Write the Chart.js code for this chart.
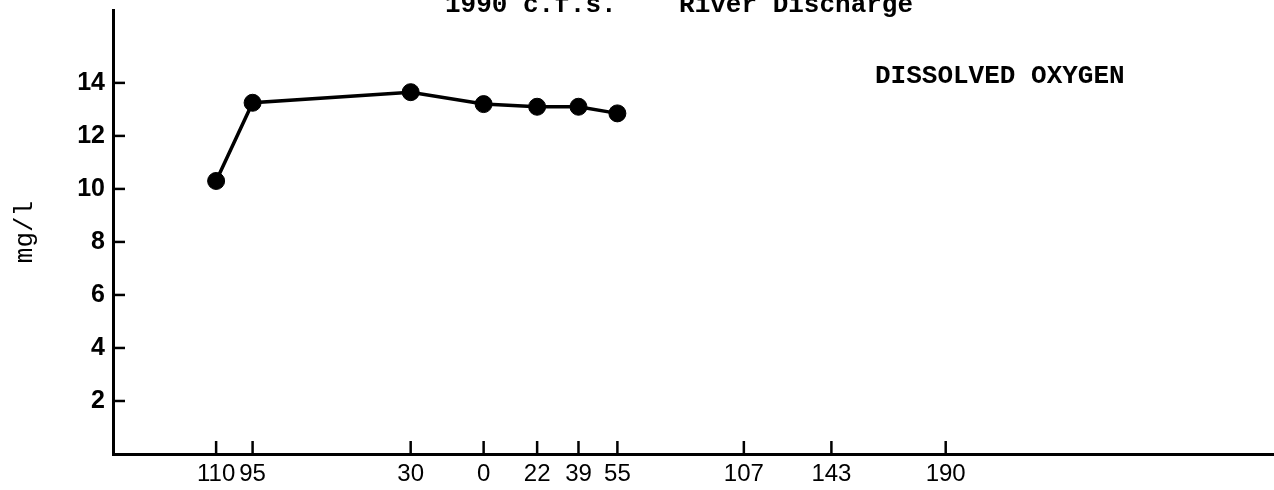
<!DOCTYPE html>
<html>
<head>
<meta charset="utf-8">
<script src="https://cdn.jsdelivr.net/npm/chart.js@4"></script>
<style>
  html, body { margin: 0; padding: 0; background: #fff; overflow: hidden; }
  /* a little wider than the window: Chart.js keeps ~10px free on the right
     for the large dots, and the x axis should run to the window edge */
  #wrap { width: 1284px; height: 490px; position: relative; }
</style>
</head>
<body>
<div id="wrap"><canvas id="doChart"></canvas></div>
<script>
// station positions along the river (miles, upstream negative) and their printed labels
const stations = [-110, -95, -30, 0, 22, 39, 55, 107, 143, 190];
const stationLabels = ["110", "95", "30", "0", "22", "39", "55", "107", "143", "190"];

// dissolved oxygen, mg/l, at the sampled stations
const sampleStations = [-110, -95, -30, 0, 22, 39, 55];
const oxygenValues = [10.3, 13.25, 13.65, 13.2, 13.1, 13.1, 12.85];

const yTicks = [2, 4, 6, 8, 10, 12, 14];

const headerText = "1990 c.f.s.    River Discharge";
const panelText = "DISSOLVED OXYGEN";

// short tick marks pointing into the plot, plus the typed captions
const innerTicks = {
  id: "innerTicks",
  afterDraw(chart) {
    const ctx = chart.ctx;
    const x = chart.scales.x;
    const y = chart.scales.y;
    const area = chart.chartArea;
    ctx.save();
    ctx.strokeStyle = "#000";
    ctx.lineWidth = 2.5;
    x.ticks.forEach((t) => {
      const px = x.getPixelForValue(t.value);
      ctx.beginPath();
      ctx.moveTo(px, area.bottom);
      ctx.lineTo(px, area.bottom - 13);
      ctx.stroke();
    });
    y.ticks.forEach((t) => {
      const py = y.getPixelForValue(t.value);
      ctx.beginPath();
      ctx.moveTo(area.left, py);
      ctx.lineTo(area.left + 12, py);
      ctx.stroke();
    });

    ctx.fillStyle = "#000";
    ctx.font = "bold 26px 'Liberation Mono'";
    ctx.textBaseline = "alphabetic";
    ctx.textAlign = "left";
    ctx.fillText(headerText, 445, 12);
    ctx.fillText(panelText, 875, 83);
    ctx.restore();
  },
};

new Chart(document.getElementById("doChart").getContext("2d"), {
  type: "line",
  data: {
    datasets: [
      {
        label: "Dissolved oxygen",
        data: sampleStations.map((s, i) => ({ x: s, y: oxygenValues[i] })),
        borderColor: "#000",
        backgroundColor: "#000",
        borderWidth: 3.5,
        pointRadius: 8.5,
        pointHoverRadius: 8.5,
        pointBorderWidth: 1,
        tension: 0,
      },
    ],
  },
  options: {
    responsive: true,
    maintainAspectRatio: false,
    animation: false,
    layout: { padding: { top: 10, right: 0, left: 0, bottom: 0 } },
    plugins: {
      legend: { display: false },
      tooltip: { enabled: false },
    },
    scales: {
      x: {
        type: "linear",
        min: -152.4,
        max: 325.2,
        grid: { display: false, drawTicks: false },
        border: { display: true, color: "#000", width: 3 },
        afterBuildTicks: (scale) => {
          scale.ticks = stations.map((v) => ({ value: v }));
        },
        afterFit: (scale) => {
          scale.height = 36;
          scale.paddingLeft = 0;
          scale.paddingRight = 0;
        },
        ticks: {
          color: "#000",
          padding: 6,
          autoSkip: false,
          maxRotation: 0,
          font: { family: "'Liberation Sans'", size: 24 },
          callback: (value) => {
            const i = stations.indexOf(value);
            return i >= 0 ? stationLabels[i] : "";
          },
        },
      },
      y: {
        min: 0,
        max: 16.75,
        grid: { display: false, drawTicks: false },
        border: { display: true, color: "#000", width: 3 },
        afterBuildTicks: (scale) => {
          scale.ticks = yTicks.map((v) => ({ value: v }));
        },
        afterFit: (scale) => {
          scale.width = 113;
          scale.paddingTop = 0;
          scale.paddingBottom = 0;
        },
        ticks: {
          color: "#000",
          padding: 8,
          font: { family: "'Liberation Sans'", size: 25, weight: "bold" },
        },
        title: {
          display: true,
          text: "mg/l",
          color: "#000",
          padding: { top: 10, bottom: 0 },
          font: { family: "'Liberation Mono'", size: 26 },
        },
      },
    },
  },
  plugins: [innerTicks],
});
</script>
</body>
</html>
